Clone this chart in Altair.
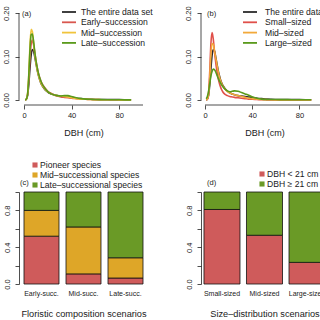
import altair as alt
import pandas as pd

FONT = "Liberation Sans"

# ---------------- data ----------------
dbh = [1, 2, 3, 4, 5, 6, 7, 8, 9, 10, 11, 12, 13, 14, 15, 17, 19, 21, 23, 25,
       28, 31, 34, 37, 40, 44, 48, 52, 56, 60, 65, 70, 75, 80, 85, 90]

entire = [0.000, 0.002, 0.010, 0.035, 0.072, 0.103, 0.116, 0.113, 0.100, 0.085,
          0.070, 0.058, 0.048, 0.040, 0.034, 0.026, 0.020, 0.016, 0.014, 0.012,
          0.010, 0.009, 0.008, 0.007, 0.006, 0.004, 0.003, 0.002, 0.0015, 0.0012,
          0.001, 0.001, 0.0008, 0.0007, 0.0005, 0.0002]
early = [0.000, 0.002, 0.012, 0.045, 0.095, 0.128, 0.138, 0.128, 0.110, 0.092,
         0.076, 0.063, 0.053, 0.045, 0.039, 0.030, 0.023, 0.018, 0.015, 0.012,
         0.009, 0.007, 0.006, 0.005, 0.004, 0.003, 0.002, 0.0015, 0.001, 0.0008,
         0.0006, 0.0005, 0.0004, 0.0003, 0.0002, 0.0001]
mid_succ = [0.000, 0.002, 0.014, 0.058, 0.125, 0.163, 0.158, 0.133, 0.108, 0.087,
            0.071, 0.059, 0.049, 0.041, 0.035, 0.027, 0.021, 0.017, 0.014, 0.012,
            0.010, 0.009, 0.008, 0.007, 0.005, 0.003, 0.002, 0.0015, 0.001, 0.0008,
            0.0006, 0.0005, 0.0004, 0.0003, 0.0002, 0.0001]
late_succ = [0.000, 0.002, 0.013, 0.055, 0.115, 0.150, 0.152, 0.136, 0.112, 0.092,
             0.076, 0.063, 0.053, 0.045, 0.038, 0.029, 0.022, 0.017, 0.014, 0.012,
             0.010, 0.009, 0.010, 0.010, 0.008, 0.005, 0.003, 0.002, 0.0015, 0.001,
             0.0008, 0.0006, 0.0005, 0.0004, 0.0003, 0.0002]
small = [0.000, 0.002, 0.015, 0.065, 0.130, 0.155, 0.140, 0.112, 0.088, 0.068,
         0.052, 0.040, 0.031, 0.024, 0.019, 0.013, 0.010, 0.008, 0.007, 0.006,
         0.005, 0.004, 0.003, 0.002, 0.0015, 0.001, 0.0005, 0.0003, 0.0002, 0.0001,
         0.0001, 0.0001, 0.0001, 0.0001, 0.0001, 0.0001]
mid_size = [0.000, 0.002, 0.012, 0.050, 0.105, 0.130, 0.128, 0.113, 0.098, 0.083,
            0.068, 0.056, 0.046, 0.039, 0.033, 0.025, 0.019, 0.016, 0.014, 0.012,
            0.010, 0.008, 0.006, 0.004, 0.003, 0.002, 0.001, 0.0008, 0.0005, 0.0003,
            0.0002, 0.0001, 0.0001, 0.0001, 0.0001, 0.0001]
large = [0.003, 0.008, 0.020, 0.038, 0.055, 0.066, 0.071, 0.070, 0.065, 0.058,
         0.051, 0.045, 0.040, 0.035, 0.031, 0.025, 0.021, 0.019, 0.020, 0.021,
         0.020, 0.017, 0.014, 0.011, 0.007, 0.004, 0.002, 0.0012, 0.001, 0.001,
         0.0008, 0.0007, 0.0006, 0.0005, 0.0005, 0.0004]

names_a = ["The entire data set", "Early\u2013succession", "Mid\u2013succession", "Late\u2013succession"]
names_b = ["The entire data set", "Small\u2013sized", "Mid\u2013sized", "Large\u2013sized"]
colors_a = ["#2b2b2b", "#d9574f", "#f0c43c", "#5a9a1c"]
colors_b = ["#2b2b2b", "#e0504a", "#f2a93b", "#5a9a1c"]

scen_c = ["Early-succ.", "Mid-succ.", "Late-succ."]
groups_c = ["Pioneer species", "Mid\u2013successional species", "Late\u2013successional species"]
pioneer = [0.52, 0.11, 0.065]
midsp = [0.28, 0.51, 0.22]
latesp = [0.20, 0.38, 0.715]
colors_c = ["#cf5b5b", "#dea628", "#6a9a26"]

scen_d = ["Small-sized", "Mid-sized", "Large-sized"]
groups_d = ["DBH < 21 cm", "DBH \u2265 21 cm"]
below21 = [0.81, 0.53, 0.235]
above21 = [0.19, 0.47, 0.765]
colors_d = ["#cf5b5b", "#6a9a26"]

x_ticks = [0, 20, 40, 60, 80, 100]
y_ticks = [0, 0.05, 0.10, 0.15, 0.20]
bar_ticks = [0, 0.2, 0.4, 0.6, 0.8, 1.0]

# ---------------- helpers ----------------
TXT = "#1a1a1a"
TOP_H = 105
BOT_H = 92


def density_panel(series, names, colors, xdom, width, letter, letter_x, leg_x0, leg_x1, leg_xt):
    rows = []
    for name, vals in zip(names, series):
        for d, v in zip(dbh, vals):
            rows.append({"series": name, "dbh": d, "dens": v})
    df = pd.DataFrame(rows)
    xs = alt.Scale(domain=xdom, nice=False, zero=False)
    ys = alt.Scale(domain=[-0.0116, 0.2302], nice=False, zero=False)
    lines = alt.Chart(df).mark_line(strokeWidth=1.6, interpolate="monotone").encode(
        x=alt.X("dbh:Q", scale=xs,
                axis=alt.Axis(values=x_ticks, domain=False, tickSize=4, tickWidth=0.8,
                              tickColor="#222", labelPadding=2.5, labelFontSize=7.5,
                              labelFlush=False, labelOverlap=False, grid=False,
                              title="DBH (cm)", titleFontSize=9, titleY=23,
                              titleBaseline="top", titleFontWeight="normal")),
        y=alt.Y("dens:Q", scale=ys,
                axis=alt.Axis(values=y_ticks, domain=False, tickSize=4, tickWidth=0.8,
                              tickColor="#222", labelAngle=270, labelAlign="center",
                              labelBaseline="middle", labelPadding=9, labelFontSize=7.5,
                              labelOverlap=False, labelFlush=False, grid=False, title=None,
                              labelExpr="(datum.value == 0.05 || datum.value == 0.15) ? '' : format(datum.value, '.2f')")),
        color=alt.Color("series:N", scale=alt.Scale(domain=names, range=colors), legend=None),
        order=alt.Order("dbh:Q"),
    )
    one = pd.DataFrame({"k": [0]})
    xaxis = alt.Chart(one).mark_rule(color="#222", strokeWidth=0.8).encode(
        x=alt.X(datum=0, scale=xs), x2=alt.X2(datum=100), y=alt.value(TOP_H))
    yaxis = alt.Chart(one).mark_rule(color="#222", strokeWidth=0.8).encode(
        y=alt.Y(datum=0, scale=ys), y2=alt.Y2(datum=0.2), x=alt.value(0))
    lab = alt.Chart(pd.DataFrame({"t": [letter]})).mark_text(
        align="left", baseline="middle", fontSize=7.5, font=FONT, color=TXT).encode(
        x=alt.value(letter_x), y=alt.value(14), text="t:N")
    leg_df = pd.DataFrame({"label": names, "col": colors, "i": list(range(len(names)))})
    leg_base = alt.Chart(leg_df).transform_calculate(py="12 + datum.i * 10.3")
    leg_rules = leg_base.mark_rule(strokeWidth=1.8).encode(
        x=alt.value(leg_x0), x2=alt.value(leg_x1),
        y=alt.Y("py:Q", scale=None, axis=None),
        color=alt.Color("col:N", scale=None, legend=None))
    leg_text = leg_base.mark_text(align="left", baseline="middle", fontSize=8.6,
                                  font=FONT, color=TXT).encode(
        x=alt.value(leg_xt), y=alt.Y("py:Q", scale=None, axis=None), text="label:N")
    return alt.layer(lines, xaxis, yaxis, lab, leg_rules, leg_text).properties(
        width=width, height=TOP_H)


def bar_panel(scen, groups, values, colors, width, pin, pout, title, letter, letter_x,
              sq_x, txt_x, leg_y0):
    rows = []
    for gi, (g, vals) in enumerate(zip(groups, values)):
        for s, v in zip(scen, vals):
            rows.append({"scenario": s, "group": g, "value": v, "k": gi})
    df = pd.DataFrame(rows)
    bars = alt.Chart(df).mark_bar(stroke="#111", strokeWidth=0.8).encode(
        x=alt.X("scenario:N", sort=scen,
                scale=alt.Scale(paddingInner=pin, paddingOuter=pout),
                axis=alt.Axis(domain=False, ticks=False, tickSize=0, labelAngle=0,
                              labelPadding=9.5, labelFontSize=7, labelOverlap=False,
                              labelBaseline="middle", title=title, titleFontSize=9.2,
                              titleY=25.5, titleBaseline="top", titleFontWeight="normal")),
        y=alt.Y("value:Q", stack="zero", scale=alt.Scale(domain=[0, 1], nice=False),
                axis=alt.Axis(values=bar_ticks, domain=True, domainColor="#222",
                              domainWidth=0.8, tickSize=4, tickWidth=0.8, tickColor="#222",
                              labelAngle=270, labelAlign="center", labelBaseline="middle",
                              labelPadding=8, labelFontSize=7.5, labelOverlap=False,
                              labelFlush=False, grid=False, title=None,
                              labelExpr="(datum.value == 0 || datum.value == 0.4 || datum.value == 0.8) ? format(datum.value, '.1f') : ''")),
        color=alt.Color("group:N", scale=alt.Scale(domain=groups, range=colors), legend=None),
        order=alt.Order("k:Q"),
    )
    lab = alt.Chart(pd.DataFrame({"t": [letter]})).mark_text(
        align="left", baseline="middle", fontSize=7.5, font=FONT, color=TXT).encode(
        x=alt.value(letter_x), y=alt.value(-9), text="t:N")
    leg_df = pd.DataFrame({"label": groups, "col": colors, "i": list(range(len(groups)))})
    leg_base = alt.Chart(leg_df).transform_calculate(py=f"{leg_y0} + datum.i * 10")
    sq = leg_base.mark_square(size=26, opacity=1).encode(
        x=alt.value(sq_x), y=alt.Y("py:Q", scale=None, axis=None),
        color=alt.Color("col:N", scale=None, legend=None))
    tx = leg_base.mark_text(align="left", baseline="middle", fontSize=8.6,
                            font=FONT, color=TXT).encode(
        x=alt.value(txt_x), y=alt.Y("py:Q", scale=None, axis=None), text="label:N")
    return alt.layer(bars, lab, sq, tx).properties(width=width, height=BOT_H)


pa = density_panel([entire, early, mid_succ, late_succ], names_a, colors_a,
                   [-4.2, 104.2], 129, "(a)", 3, 43, 57, 62)
pb = density_panel([entire, small, mid_size, large], names_b, colors_b,
                   [-3.4, 104.2], 127, "(b)", 6, 42, 56, 64)
pc = bar_panel(scen_c, groups_c, [pioneer, midsp, latesp], colors_c, 129, 0.167, 0.119,
               "Floristic composition scenarios", "(c)", 1, 16, 21, -27)
pd_ = bar_panel(scen_d, groups_d, [below21, above21], colors_d, 127, 0.153, 0.07,
                "Size\u2013distribution scenarios", "(d)", 6, 61, 66, -18)

chart = alt.concat(pa, pb, pc, pd_, columns=2,
                   spacing={"row": 87, "column": 53},
                   bounds="flush", align="each").resolve_scale(
    color="independent", x="independent", y="independent"
).properties(
    autosize=alt.AutoSizeParams(type="none"),
    padding={"left": 19, "top": 0, "right": 301, "bottom": 320},
    background="white",
).configure_view(stroke=None).configure_axis(
    labelFont=FONT, titleFont=FONT, labelColor=TXT, titleColor=TXT
)

chart.save("out.html", embed_options={"renderer": "svg", "actions": False})
